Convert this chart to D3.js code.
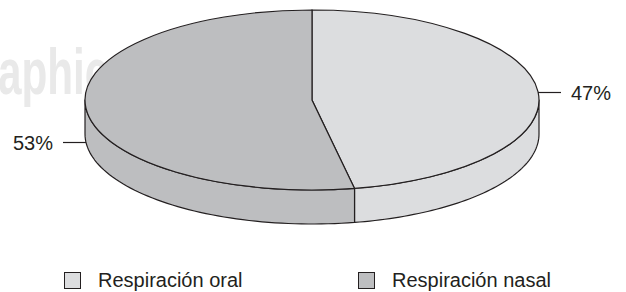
<!DOCTYPE html>
<html>
<head>
<meta charset="utf-8">
<script src="https://cdn.jsdelivr.net/npm/d3@7"></script>
<style>
  body { margin: 0; background: #fff; }
  svg { display: block; font-family: "Liberation Sans", Arial, sans-serif; }
</style>
</head>
<body>
<div id="chart"></div>
<script>
// chart data
var categories = ["Respiración oral", "Respiración nasal"];
var values     = [47, 53];
var labels     = ["47%", "53%"];
var colors     = ["#dcdddf", "#bdbec0"];

var W = 626, H = 292;
var cx = 312, cy = 100, rx = 227, ry = 90, depth = 34;
var ink = "#231f20";

var svg = d3.select("#chart").append("svg")
    .attr("width", W)
    .attr("height", H);

// faint watermark behind the pie
svg.append("text")
    .attr("transform", "translate(-2,94) scale(0.66,1)")
    .attr("font-size", 64)
    .attr("font-weight", "bold")
    .attr("fill", "#e9e9e9")
    .text("aphic");

var pie = d3.pie().sort(null).value(function(d) { return d; });
var arcs = pie(values);

function px(a) { return cx + rx * Math.sin(a); }
function py(a) { return cy - ry * Math.cos(a); }

// side walls (only the front half is visible)
arcs.forEach(function(d, i) {
  var a0 = Math.max(d.startAngle, Math.PI / 2);
  var a1 = Math.min(d.endAngle, Math.PI * 3 / 2);
  if (a1 <= a0) return;
  var n = 60, top = [], bot = [];
  for (var k = 0; k <= n; k++) {
    var a = a0 + (a1 - a0) * k / n;
    top.push([px(a), py(a)]);
    bot.push([px(a), py(a) + depth]);
  }
  var pts = top.concat(bot.reverse());
  svg.append("path")
      .attr("d", d3.line()(pts) + "Z")
      .attr("fill", colors[i])
      .attr("stroke", ink)
      .attr("stroke-width", 1.2)
      .attr("stroke-linejoin", "round");
});

// top faces
var arc = d3.arc().innerRadius(0).outerRadius(rx);
svg.append("g")
    .attr("transform", "translate(" + cx + "," + cy + ") scale(1," + (ry / rx) + ")")
  .selectAll("path")
  .data(arcs)
  .enter()
  .append("path")
    .attr("d", arc)
    .attr("fill", function(d, i) { return colors[i]; })
    .attr("stroke", ink)
    .attr("stroke-width", 1.2)
    .attr("vector-effect", "non-scaling-stroke");

// percentage labels with leader lines
arcs.forEach(function(d, i) {
  var m = (d.startAngle + d.endAngle) / 2;
  var x = px(m), y = py(m);
  if (Math.cos(m) < 0) y += depth;
  var dir = Math.sin(m) >= 0 ? 1 : -1;
  y = Math.round(y) + 0.5;
  svg.append("line")
      .attr("x1", x).attr("y1", y)
      .attr("x2", x + dir * 23).attr("y2", y)
      .attr("stroke", ink)
      .attr("stroke-width", 1.2);
  svg.append("text")
      .attr("x", x + dir * 33)
      .attr("y", y + 7)
      .attr("text-anchor", dir > 0 ? "start" : "end")
      .attr("font-size", 20)
      .attr("fill", ink)
      .text(labels[i]);
});

// legend
var legendX = [64, 358];
var lg = svg.selectAll("g.legend")
    .data(categories)
    .enter()
    .append("g")
    .attr("class", "legend")
    .attr("transform", function(d, i) { return "translate(" + legendX[i] + ",272)"; });

lg.append("rect")
    .attr("x", 0.5).attr("y", 0.5)
    .attr("width", 16).attr("height", 16)
    .attr("fill", function(d, i) { return colors[i]; })
    .attr("stroke", ink)
    .attr("stroke-width", 1);

lg.append("text")
    .attr("x", 34)
    .attr("y", 15)
    .attr("font-size", 20)
    .attr("fill", ink)
    .text(function(d) { return d; });
</script>
</body>
</html>
